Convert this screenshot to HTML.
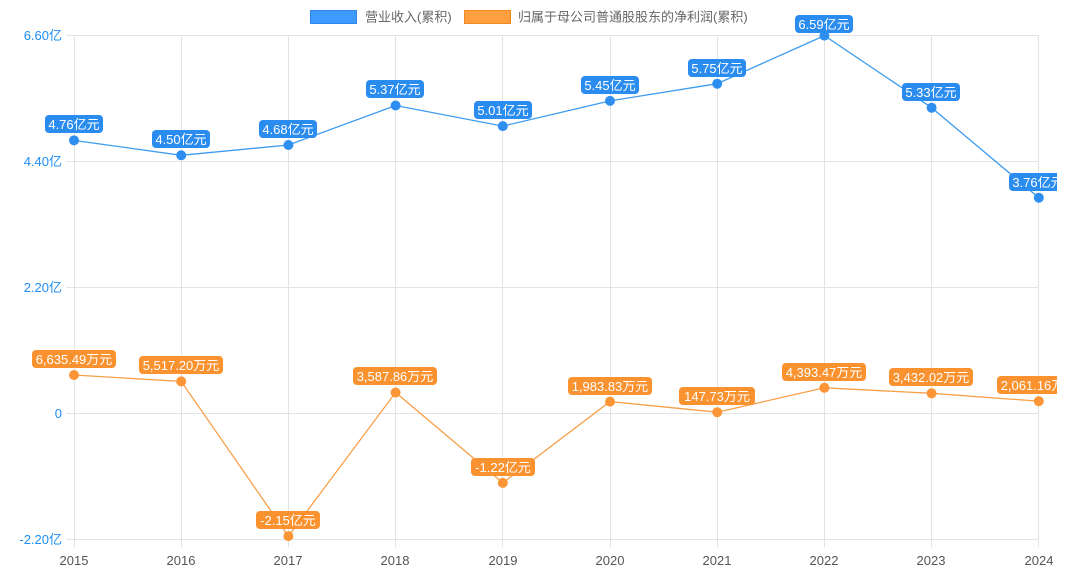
<!DOCTYPE html>
<html><head><meta charset="utf-8"><style>
html,body{margin:0;padding:0;background:#fff;width:1080px;height:585px;overflow:hidden}
svg{display:block;font-family:"Liberation Sans","Noto Sans CJK SC",sans-serif}
.lb{font-size:13px;fill:#fff;text-anchor:middle}
.ax{font-size:13px;fill:#1f8ef1;text-anchor:end}
.xt{font-size:13px;fill:#555;text-anchor:middle}
</style></head><body>
<svg width="1080" height="585" viewBox="0 0 1080 585">
<defs><clipPath id="c"><rect x="0" y="0" width="1057" height="585"/></clipPath></defs>
<!-- legend -->
<rect x="310.5" y="10.5" width="46" height="13" fill="#3d9bff" stroke="#2f86e6"/>
<text x="365" y="21.5" font-size="13" fill="#666">营业收入(累积)</text>
<rect x="464.5" y="10.5" width="46" height="13" fill="#ff9f40" stroke="#f08a20"/>
<text x="518" y="21.5" font-size="13" fill="#666">归属于母公司普通股股东的净利润(累积)</text>
<!-- grid -->
<g stroke="#e3e3e3" stroke-width="1">
<line x1="66" y1="35.5" x2="1039" y2="35.5"/>
<line x1="66" y1="161.5" x2="1039" y2="161.5"/>
<line x1="66" y1="287.5" x2="1039" y2="287.5"/>
<line x1="66" y1="413.5" x2="1039" y2="413.5"/>
<line x1="66" y1="539.5" x2="1039" y2="539.5"/>
<line x1="74.5" y1="35" x2="74.5" y2="547"/>
<line x1="181.5" y1="35" x2="181.5" y2="547"/>
<line x1="288.5" y1="35" x2="288.5" y2="547"/>
<line x1="395.5" y1="35" x2="395.5" y2="547"/>
<line x1="502.5" y1="35" x2="502.5" y2="547"/>
<line x1="610.5" y1="35" x2="610.5" y2="547"/>
<line x1="717.5" y1="35" x2="717.5" y2="547"/>
<line x1="824.5" y1="35" x2="824.5" y2="547"/>
<line x1="931.5" y1="35" x2="931.5" y2="547"/>
<line x1="1038.5" y1="35" x2="1038.5" y2="547"/>
</g>
<!-- axes labels -->
<text class="ax" x="62" y="40">6.60亿</text>
<text class="ax" x="62" y="166">4.40亿</text>
<text class="ax" x="62" y="292">2.20亿</text>
<text class="ax" x="62" y="418">0</text>
<text class="ax" x="62" y="544">-2.20亿</text>
<g class="xt">
<text x="74" y="565">2015</text><text x="181" y="565">2016</text><text x="288" y="565">2017</text>
<text x="395" y="565">2018</text><text x="503" y="565">2019</text><text x="610" y="565">2020</text>
<text x="717" y="565">2021</text><text x="824" y="565">2022</text><text x="931" y="565">2023</text>
<text x="1039" y="565">2024</text></g>
<g clip-path="url(#c)">
<polyline fill="none" stroke="#3d9bef" stroke-width="1.3" points="74,140.4 181.2,155.3 288.4,145 395.6,105.5 502.8,126.1 610,100.9 717.2,83.7 824.4,35.6 931.6,107.7 1038.8,197.7"/>
<polyline fill="none" stroke="#f7a04a" stroke-width="1.3" points="74,375 181.2,381.4 288.4,536.1 395.6,392.5 502.8,482.9 610,401.6 717.2,412.2 824.4,387.8 931.6,393.3 1038.8,401.2"/>
<g fill="#2f8ff0">
<circle cx="74" cy="140.4" r="5"/><circle cx="181.2" cy="155.3" r="5"/><circle cx="288.4" cy="145" r="5"/><circle cx="395.6" cy="105.5" r="5"/><circle cx="502.8" cy="126.1" r="5"/><circle cx="610" cy="100.9" r="5"/><circle cx="717.2" cy="83.7" r="5"/><circle cx="824.4" cy="35.6" r="5"/><circle cx="931.6" cy="107.7" r="5"/><circle cx="1038.8" cy="197.7" r="5"/></g>
<g fill="#fb9535">
<circle cx="74" cy="375" r="5"/><circle cx="181.2" cy="381.4" r="5"/><circle cx="288.4" cy="536.1" r="5"/><circle cx="395.6" cy="392.5" r="5"/><circle cx="502.8" cy="482.9" r="5"/><circle cx="610" cy="401.6" r="5"/><circle cx="717.2" cy="412.2" r="5"/><circle cx="824.4" cy="387.8" r="5"/><circle cx="931.6" cy="393.3" r="5"/><circle cx="1038.8" cy="401.2" r="5"/></g>
<!-- blue labels -->
<g fill="#2b8cf0">
<rect x="45" y="115" width="58" height="18" rx="4"/>
<rect x="152" y="130" width="58" height="18" rx="4"/>
<rect x="259" y="120" width="58" height="18" rx="4"/>
<rect x="366" y="80" width="58" height="18" rx="4"/>
<rect x="474" y="101" width="58" height="18" rx="4"/>
<rect x="581" y="76" width="58" height="18" rx="4"/>
<rect x="688" y="59" width="58" height="18" rx="4"/>
<rect x="795" y="15" width="58" height="18" rx="4"/>
<rect x="902" y="83" width="58" height="18" rx="4"/>
<rect x="1009" y="173" width="58" height="18" rx="4"/></g>
<g class="lb">
<text x="74" y="129">4.76亿元</text><text x="181" y="144">4.50亿元</text><text x="288" y="134">4.68亿元</text>
<text x="395" y="94">5.37亿元</text><text x="503" y="115">5.01亿元</text><text x="610" y="90">5.45亿元</text>
<text x="717" y="73">5.75亿元</text><text x="824" y="29">6.59亿元</text><text x="931" y="97">5.33亿元</text>
<text x="1038" y="187">3.76亿元</text></g>
<!-- orange labels -->
<g fill="#fb9230">
<rect x="32" y="350" width="84" height="18" rx="4"/>
<rect x="139" y="356" width="84" height="18" rx="4"/>
<rect x="256" y="511" width="64" height="18" rx="4"/>
<rect x="353" y="367" width="84" height="18" rx="4"/>
<rect x="471" y="458" width="64" height="18" rx="4"/>
<rect x="568" y="377" width="84" height="18" rx="4"/>
<rect x="679" y="387" width="76" height="18" rx="4"/>
<rect x="782" y="363" width="84" height="18" rx="4"/>
<rect x="889" y="368" width="84" height="18" rx="4"/>
<rect x="997" y="376" width="84" height="18" rx="4"/></g>
<g class="lb">
<text x="74" y="364">6,635.49万元</text><text x="181" y="370">5,517.20万元</text><text x="288" y="525">-2.15亿元</text>
<text x="395" y="381">3,587.86万元</text><text x="503" y="472">-1.22亿元</text><text x="610" y="391">1,983.83万元</text>
<text x="717" y="401">147.73万元</text><text x="824" y="377">4,393.47万元</text><text x="931" y="382">3,432.02万元</text>
<text x="1039" y="390">2,061.16万元</text></g>
</g>
</svg>
</body></html>
